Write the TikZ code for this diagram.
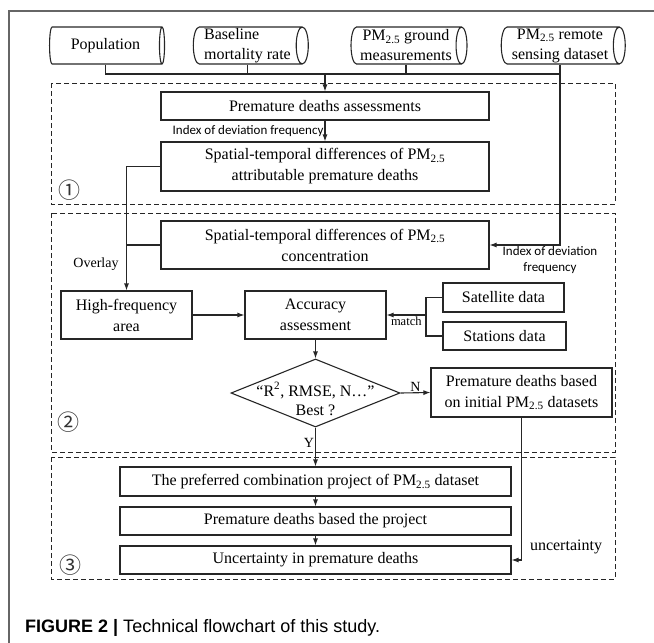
\documentclass[tikz,border=0pt]{standalone}
\usepackage{fontspec}
\setmainfont{Liberation Serif}
\newfontfamily\notefont{Carlito}
\newfontfamily\capfont{Liberation Sans}
\newfontfamily\circfont{Noto Sans CJK SC}
\usetikzlibrary{shapes.geometric,arrows.meta}
\newcommand{\PMsub}{PM\textsubscript{2.5}}
\tikzset{
	box/.style={draw=black!85, line width=1.1pt, inner sep=1pt, align=center, font=\fontsize{16}{21}\selectfont},
	dataset/.style={cylinder, draw=black!85, line width=1.1pt, aspect=0.35, minimum height=115pt, minimum width=37pt, inner xsep=1pt, inner ysep=0pt, align=center, font=\fontsize{16}{20}\selectfont},
	decision/.style={diamond, draw=black!85, line width=1.1pt, minimum width=169pt, minimum height=68pt, inner sep=0pt},
	region/.style={draw=black!85, line width=1pt, dash pattern=on 5pt off 3pt},
	flow/.style={draw=black!85, line width=1.1pt, -{Latex[length=7pt,width=5pt]}},
	link/.style={draw=black!85, line width=1.1pt},
	note/.style={font=\notefont\fontsize{13}{16}\selectfont, align=center, inner sep=1pt},
	tag/.style={font=\fontsize{14}{16}\selectfont, inner sep=1pt},
	stepnum/.style={font=\circfont\fontsize{22}{22}\selectfont, inner sep=0pt, text=black!80}
}
\begin{document}
\begin{tikzpicture}[x=1pt, y=-1pt]
		\useasboundingbox (0,0) rectangle (654,643);
		% Frame
		\draw[black!60, line width=1.2pt] (654,11) -- (9,11) -- (9,643);

		% Data sources
		\node[dataset] (pop) at (105.5,45.5) {Population};
		\node[dataset, align=left] (base) at (247.5,45.5) {Baseline\\mortality rate};
		\node[dataset, minimum height=116pt] (ground) at (406,45.5) {\PMsub{} ground\\measurements};
		\node[dataset, minimum height=124pt] (remote) at (560,45.5) {\PMsub{} remote\\sensing dataset};
		\coordinate (bus) at (560,74);

		% Regions
		\draw[region] (51,83) rectangle (615,204);
		\draw[region] (51,213) rectangle (615,452);
		\draw[region] (51,457) rectangle (615,579);
		\node[stepnum] (s1) at (69,190) {①};
		\node[stepnum] (s2) at (68,422) {②};
		\node[stepnum] (s3) at (70,565) {③};

		% Part 1
		\node[box, minimum width=328pt, minimum height=28pt] (pda) at (325,106) {Premature deaths assessments};
		\node[box, minimum width=328pt, minimum height=49pt] (spat1) at (325,166.5) {Spatial-temporal differences of \PMsub\\attributable premature deaths};

		\draw[link] (pop.south) |- (bus);
		\draw[link] (base.south) -- (base.south |- bus);
		\draw[link] (ground.south) -- (ground.south |- bus);
		\draw[flow] (pda.north |- bus) -- (pda);
		\draw[flow] (pda) -- node[left, note] {Index of deviation frequency} (spat1);

		% Part 2
		\node[box, minimum width=328pt, minimum height=48pt] (spat2) at (325,245) {Spatial-temporal differences of \PMsub\\concentration};
		\node[box, minimum width=131pt, minimum height=48pt] (hf) at (126.5,315) {High-frequency\\area};
		\node[box, minimum width=141pt, minimum height=48pt] (acc) at (315.5,315) {Accuracy\\assessment};
		\node[box, minimum width=121pt, minimum height=29pt] (sat) at (503.5,297.5) {Satellite data};
		\node[box, minimum width=123pt, minimum height=28pt] (sta) at (504.5,336) {Stations data};
		\node[decision, label={[font=\fontsize{16}{19}\selectfont, align=center, yshift=-6pt]center:``R\textsuperscript{2}, RMSE, N\dots''\\Best ?}] (best) at (315.5,393) {};
		\node[box, minimum width=181pt, minimum height=49pt] (pdinit) at (521.5,392.5) {Premature deaths based\\on initial \PMsub{} datasets};
		\coordinate (match) at (426,315);

		\draw[flow] (remote.south) |- (spat2.east);
		\node[note] (idf) at (550,260) {Index of deviation\\frequency};
		\draw[flow] (spat1.west) -| (hf.north);
		\draw[link] (spat2.west) -- (spat2.west -| hf.north);
		\node[tag] (overlay) at (96,264) {Overlay};
		\draw[flow] (hf) -- (acc);
		\draw[link] (sat.west) -| (match) |- (sta.west);
		\draw[flow] (match) -- node[below, tag, font=\fontsize{12.5}{14}\selectfont] {match} (acc.east);
		\draw[flow] (acc) -- (best);
		\draw[flow] (best.east) -- node[above, tag] {N} (pdinit.west);

		% Part 3
		\node[box, minimum width=391pt, minimum height=29pt] (pref) at (315.5,481.5) {The preferred combination project of \PMsub{} dataset};
		\node[box, minimum width=391pt, minimum height=28pt] (pdproj) at (315.5,521) {Premature deaths based the project};
		\node[box, minimum width=391pt, minimum height=28pt] (unc) at (315.5,560) {Uncertainty in premature deaths};

		\draw[flow] (best.south) -- node[left, tag, pos=0.4] {Y} (pref);
		\draw[flow] (pref) -- (pdproj);
		\draw[flow] (pdproj) -- (unc);
		\draw[flow] (pdinit.south) |- (unc.east);
		\node[tag, font=\fontsize{16}{18}\selectfont] (unclab) at (566,547) {uncertainty};

		% Caption
		\node[anchor=west, inner sep=0pt, font=\capfont\fontsize{18}{20}\selectfont] (cap) at (25,628) {\textbf{FIGURE 2 |} Technical flowchart of this study.};
	\end{tikzpicture}
\end{document}
